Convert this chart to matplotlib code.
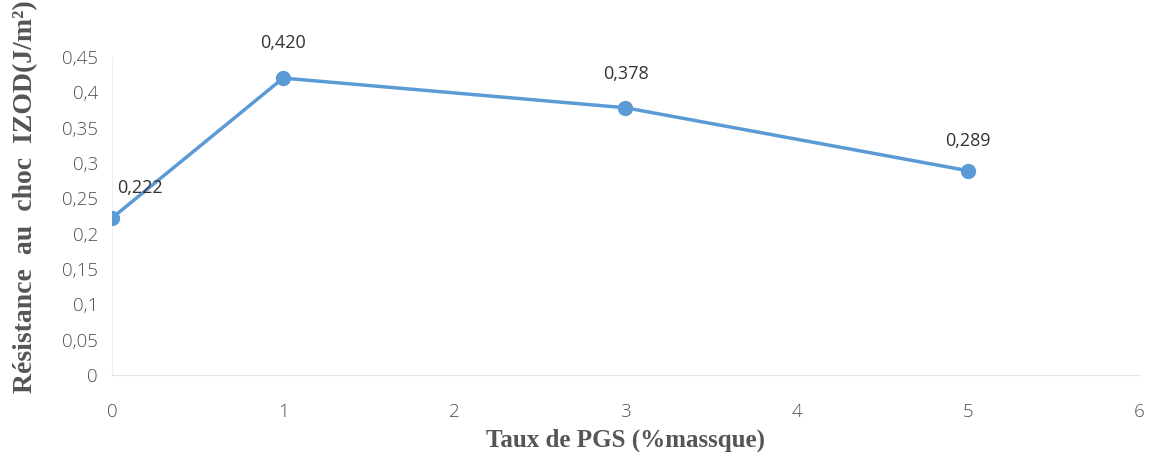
import matplotlib.pyplot as plt
from matplotlib.ticker import FuncFormatter, MultipleLocator

# Impact strength vs PGS loading
taux_pgs = [0, 1, 3, 5]
resistance = [0.222, 0.420, 0.378, 0.289]


def virgule(v, pos=None):
    """Format a number with a decimal comma, dropping trailing zeros."""
    s = f"{v:.2f}".rstrip('0').rstrip('.')
    return s.replace('.', ',')


fig = plt.figure(figsize=(11.5, 4.55), dpi=100)
ax = fig.add_axes([0.0974, 0.176, 0.893, 0.699])

blue = '#5B9BD5'
ax.plot(taux_pgs, resistance, color=blue, linewidth=2.5, marker='o',
        markersize=10, zorder=3)

# value labels above each point
offsets = {0: (20, 15), 1: (0, 19), 3: (0, 18), 5: (0, 15)}
for x, y in zip(taux_pgs, resistance):
    dx, dy = offsets[x]
    ax.annotate(f"{y:.3f}".replace('.', ','), (x, y), xytext=(dx, dy),
                textcoords='offset points', ha='center', va='bottom',
                fontsize=13, color='#333333', family='Open Sans')

ax.set_xlim(0, 6)
ax.set_ylim(0, 0.45)
ax.xaxis.set_major_locator(MultipleLocator(1))
ax.yaxis.set_major_locator(MultipleLocator(0.05))
ax.yaxis.set_major_formatter(FuncFormatter(virgule))

for side in ['top', 'right']:
    ax.spines[side].set_visible(False)
ax.spines['bottom'].set_color('#e3e3e3')
ax.spines['left'].set_color('#eef0f4')
ax.tick_params(length=0, labelsize=13.5, labelcolor='#505050', pad=10)
ax.tick_params(axis='x', pad=20)
for lbl in ax.get_xticklabels() + ax.get_yticklabels():
    lbl.set_family('Open Sans')
    lbl.set_fontweight('light')

ax.set_xlabel('Taux de PGS (%massque)', fontsize=18, fontweight='bold',
              family='Liberation Serif', color='#555555')
ax.xaxis.set_label_coords(0.5, -0.17)
ax.set_ylabel('Résistance  au  choc  IZOD(J/m²)', fontsize=20,
              fontweight='bold', family='Liberation Serif', color='#555555')
ax.yaxis.set_label_coords(-0.072, 0.56)

fig.savefig('out.png', dpi=100, facecolor='white')
